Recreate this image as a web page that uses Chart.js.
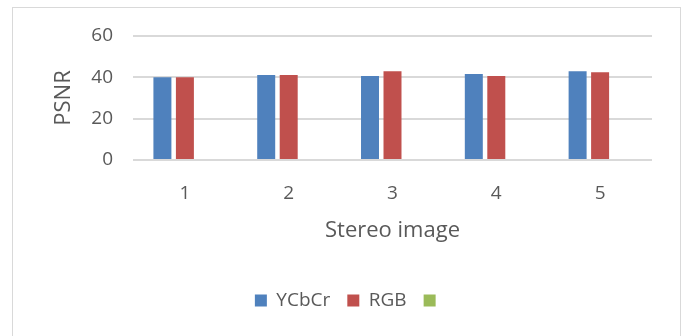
<!DOCTYPE html>
<html>
<head>
<meta charset="utf-8">
<script src="https://cdn.jsdelivr.net/npm/chart.js@4"></script>
<style>
  html, body { margin: 0; padding: 0; background: #fff; }
  #wrap { position: relative; width: 683px; height: 336px; }
</style>
</head>
<body>
<div id="wrap"><canvas id="c" width="683" height="336"></canvas></div>
<script>
const categories = ['1', '2', '3', '4', '5'];
const ycbcrValues = [40.0, 41.1, 40.6, 41.6, 42.9];
const rgbValues = [40.0, 41.1, 42.9, 40.6, 42.4];
const thirdValues = [null, null, null, null, null];
const yTicks = [0, 20, 40, 60];

const FONT = "'Open Sans', 'Liberation Sans', sans-serif";
const GRAY = '#595959';

const frame = {
  id: 'frame',
  beforeDraw(chart) {
    const ctx = chart.ctx;
    ctx.save();
    ctx.fillStyle = '#fff';
    ctx.fillRect(0, 0, chart.width, chart.height);
    ctx.strokeStyle = '#d9d9d9';
    ctx.lineWidth = 1;
    ctx.strokeRect(12.5, 7.5, 668, 340);
    ctx.restore();
  }
};

const legendShift = {
  id: 'legendShift',
  afterLayout(chart) {
    if (chart.legend) {
      chart.legend.left += 18;
      chart.legend.right += 18;
    }
  }
};

new Chart(document.getElementById('c'), {
  type: 'bar',
  data: {
    labels: categories,
    datasets: [
      { label: 'YCbCr', data: ycbcrValues, backgroundColor: '#4F81BD', borderWidth: 0 },
      { label: 'RGB', data: rgbValues, backgroundColor: '#C0504D', borderWidth: 0 },
      { label: '', data: thirdValues, backgroundColor: '#9BBB59', borderWidth: 0 }
    ]
  },
  options: {
    responsive: false,
    animation: false,
    events: [],
    categoryPercentage: 0.65,
    barPercentage: 0.8,
    layout: { padding: { left: 12, right: 31, top: 36, bottom: 16 } },
    plugins: {
      tooltip: { enabled: false },
      legend: {
        position: 'bottom',
        labels: {
          boxWidth: 12, boxHeight: 12, padding: 17,
          color: GRAY,
          font: { family: FONT, size: 19 }
        }
      }
    },
    scales: {
      x: {
        grid: { display: false, drawTicks: false },
        border: { display: false },
        ticks: { color: GRAY, padding: 22, font: { family: FONT, size: 19 } },
        title: {
          display: true, text: 'Stereo image', color: GRAY,
          font: { family: FONT, size: 22 },
          padding: { top: 0, bottom: 30 }
        },
        afterFit(scale) { scale.height = 114; }
      },
      y: {
        min: 0, max: 60,
        afterBuildTicks(scale) { scale.ticks = yTicks.map(v => ({ value: v })); },
        grid: { color: '#d9d9d9', lineWidth: 2, drawTicks: false },
        border: { display: false },
        ticks: { color: GRAY, padding: 20, font: { family: FONT, size: 19 } },
        title: {
          display: true, text: 'PSNR', color: GRAY,
          font: { family: FONT, size: 22 },
          padding: { top: 39, bottom: 0 }
        },
        afterFit(scale) { scale.width = 121; }
      }
    }
  },
  plugins: [frame, legendShift]
});
</script>
</body>
</html>
